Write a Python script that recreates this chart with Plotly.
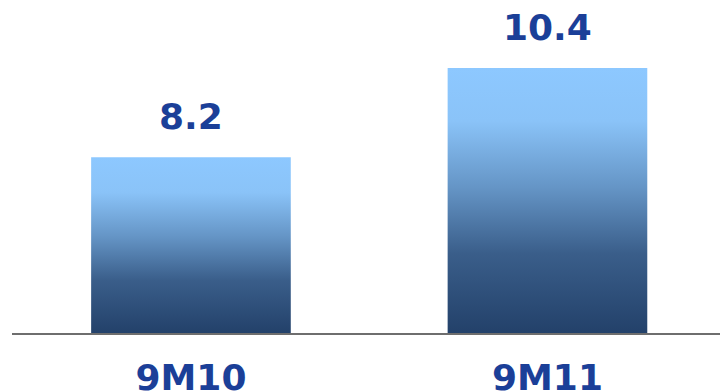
import plotly.graph_objects as go

categories = ["9M10", "9M11"]
values = [8.2, 10.4]
value_labels = ["8.2", "10.4"]

y_floor = 3.86
y_top = 12.08
bar_width = 0.56
text_color = "#1B3F98"
gradient = [[0.0, "#23416A"], [0.3, "#3A5E8A"], [0.55, "#6595C6"], [0.8, "#8AC3F8"], [1.0, "#8DC8FF"]]

fig = go.Figure()
for i, (cat, v) in enumerate(zip(categories, values)):
    x0, x1 = i - bar_width / 2, i + bar_width / 2
    fig.add_trace(go.Scatter(
        x=[x0, x1, x1, x0, x0],
        y=[y_floor, y_floor, v, v, y_floor],
        mode="lines",
        line=dict(width=0),
        fill="toself",
        fillgradient=dict(type="vertical", colorscale=gradient),
        hoverinfo="skip",
        showlegend=False,
    ))
    fig.add_annotation(
        x=i, y=v, text=value_labels[i], showarrow=False,
        yanchor="bottom", yshift=18,
        font=dict(family="DejaVu Sans", size=36, color=text_color, weight="bold"),
    )

fig.update_layout(
    width=720, height=392,
    margin=dict(l=12, r=0, t=0, b=59),
    paper_bgcolor="white", plot_bgcolor="white",
    showlegend=False,
    xaxis=dict(
        range=[-0.502, 1.484],
        tickvals=list(range(len(categories))),
        ticktext=categories,
        tickfont=dict(family="DejaVu Sans", size=36, color=text_color, weight="bold"),
        showgrid=False, zeroline=False, automargin=False,
        showline=True, linecolor="#6E6E6E", linewidth=2,
        ticks="outside", ticklen=12, tickcolor="rgba(0,0,0,0)",
    ),
    yaxis=dict(range=[y_floor, y_top], visible=False, showgrid=False, zeroline=False,
               automargin=False),
)

fig.write_html("out.html")
